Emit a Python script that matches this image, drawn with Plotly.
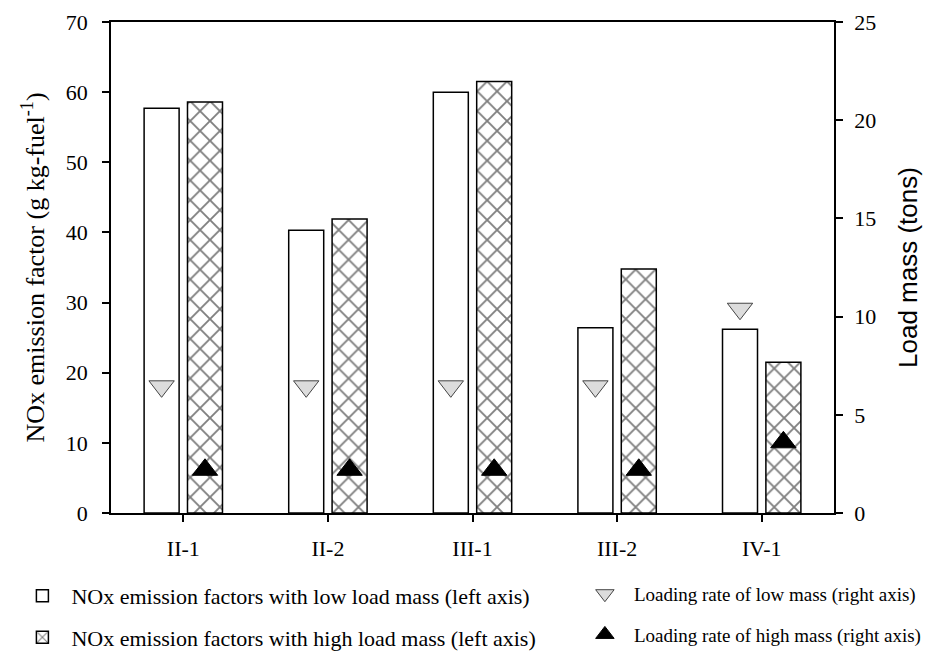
import plotly.graph_objects as go

categories = ["II-1", "II-2", "III-1", "III-2", "IV-1"]
nox_low = [57.7, 40.3, 60.0, 26.4, 26.2]
nox_high = [58.6, 41.9, 61.5, 34.8, 21.5]
load_low = [6.45, 6.45, 6.45, 6.45, 10.4]
load_high = [2.2, 2.2, 2.2, 2.2, 3.6]

idx = list(range(len(categories)))
SHIFT = 0.15
BARW = 0.242
x_low = [i - SHIFT for i in idx]
x_high = [i + SHIFT for i in idx]

serif = "Liberation Serif"
sans = "Liberation Sans"

fig = go.Figure()
fig.add_trace(go.Bar(
    x=x_low, y=nox_low, width=BARW,
    name="NOx emission factors with low load mass (left axis)",
    marker=dict(color="white", line=dict(color="black", width=1.5)),
    legend="legend", legendgroup="a",
))
fig.add_trace(go.Bar(
    x=x_high, y=nox_high, width=BARW,
    name="NOx emission factors with high load mass (left axis)",
    marker=dict(color="white", line=dict(color="black", width=1.5),
                pattern=dict(shape="x", fgcolor="black", bgcolor="white",
                             size=14, solidity=0.25)),
    legend="legend", legendgroup="b",
))
fig.add_trace(go.Scatter(
    x=x_low, y=load_low, yaxis="y2", mode="markers",
    name="Loading rate of low mass (right axis)",
    marker=dict(symbol="triangle-down", size=22, color="#dcdcdc",
                line=dict(color="#444444", width=1)),
    legend="legend2", legendgroup="c",
))
fig.add_trace(go.Scatter(
    x=x_high, y=load_high, yaxis="y2", mode="markers",
    name="Loading rate of high mass (right axis)",
    marker=dict(symbol="triangle-up", size=22, color="black",
                line=dict(color="black", width=1)),
    legend="legend2", legendgroup="d",
))

axis_common = dict(showline=True, linecolor="black", linewidth=1.5,
                   ticks="outside", ticklen=7, tickwidth=1.5, tickcolor="black",
                   showgrid=False, zeroline=False)

fig.update_layout(
    width=928, height=653,
    margin=dict(l=111, r=94, t=22, b=140, autoexpand=False),
    plot_bgcolor="white", paper_bgcolor="white",
    barmode="overlay",
    showlegend=True,
    xaxis=dict(range=[-0.5, 4.5], tickvals=idx, ticktext=categories,
               mirror=True, ticklabelstandoff=8,
               tickfont=dict(family=serif, size=22, color="black"),
               **axis_common),
    yaxis=dict(range=[0, 70], dtick=10, ticklabelstandoff=10,
               tickfont=dict(family=serif, size=22, color="black"),
               title=dict(text="NOx emission factor (g kg-fuel<sup>-1</sup>)",
                          font=dict(family=serif, size=26, color="black"),
                          standoff=14),
               **axis_common),
    yaxis2=dict(range=[0, 25], dtick=5, overlaying="y", side="right",
                ticklabelstandoff=7,
                tickfont=dict(family=serif, size=22, color="black"),
                title=dict(text="Load mass (tons)",
                           font=dict(family=sans, size=26, color="black"),
                           standoff=24),
                **axis_common),
    legend=dict(orientation="v", x=-0.135, y=-0.126, xanchor="left", yanchor="top",
                font=dict(family=serif, size=22, color="black"),
                bgcolor="rgba(0,0,0,0)", tracegroupgap=10, itemwidth=48),
    legend2=dict(orientation="v", x=0.643, y=-0.126, xanchor="left", yanchor="top",
                 font=dict(family=serif, size=19, color="black"),
                 bgcolor="rgba(0,0,0,0)", tracegroupgap=13, itemwidth=48),
)

fig.write_html("out.html", config={"displayModeBar": False},
               post_script="document.body.style.margin='0';document.body.style.overflow='hidden';")
